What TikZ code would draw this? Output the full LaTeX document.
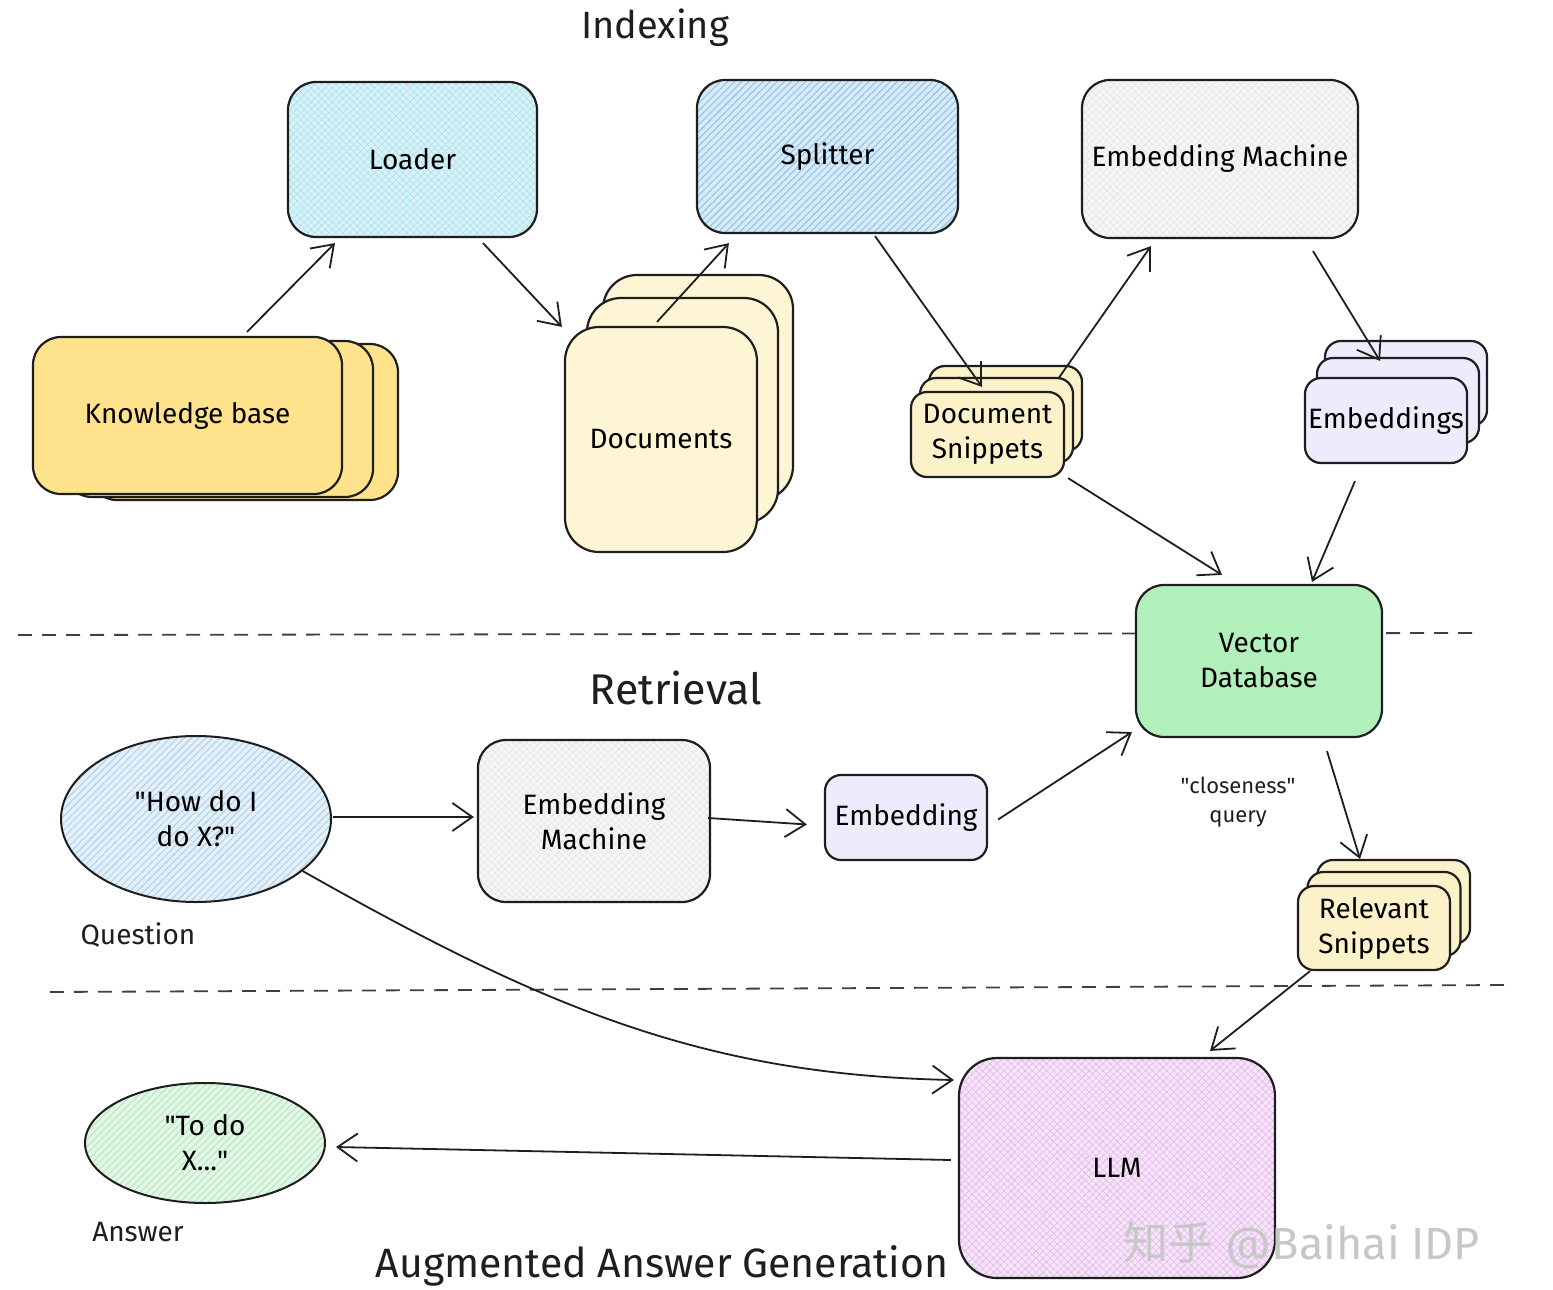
\documentclass[tikz,border=0pt]{standalone}
\usepackage{fontspec}
\setmainfont{Fira Sans}
\newfontfamily\cjkfont{Noto Sans CJK SC}
\usetikzlibrary{arrows.meta,calc,patterns.meta,shapes.geometric}
\definecolor{cLoader}{HTML}{D8F3F7}
\definecolor{hLoader}{HTML}{A6E0EA}
\definecolor{cSplit}{HTML}{D6EAF8}
\definecolor{hSplit}{HTML}{8CC0E6}
\definecolor{cGray}{HTML}{F5F6F7}
\definecolor{hGray}{HTML}{E2E4E7}
\definecolor{cKB}{HTML}{FFE38C}
\definecolor{cDoc}{HTML}{FDF5D3}
\definecolor{cSnip}{HTML}{FBF2CA}
\definecolor{cEmb}{HTML}{EDEBFC}
\definecolor{cVDB}{HTML}{B2F0BB}
\definecolor{cQ}{HTML}{E4F0F9}
\definecolor{hQ}{HTML}{A9CFEA}
\definecolor{cLLM}{HTML}{F6E4F9}
\definecolor{hLLM}{HTML}{E2B4EC}
\definecolor{cAns}{HTML}{E3F7E6}
\definecolor{hAns}{HTML}{B2E6BA}
\definecolor{ink}{HTML}{1E1E1E}
\newcommand{\qq}{\textquotedbl}
\begin{document}
\begin{tikzpicture}[x=1pt,y=-1pt,
  box/.style={draw=ink, line width=2.2pt, rounded corners=28pt, align=center,
    font=\fontsize{28}{35}\selectfont, inner sep=0pt},
  smallbox/.style={box, rounded corners=16pt},
  oval/.style={ellipse, draw=ink, line width=2pt, align=center,
    font=\fontsize{28}{35}\selectfont, inner sep=0pt},
  linesfill/.style 2 args={preaction={fill=#1}, preaction={pattern color=#2, pattern={Lines[angle=45,distance=5pt,line width=0.9pt]}}},
  crossfill/.style 2 args={preaction={fill=#1}, preaction={pattern color=#2, pattern={Hatch[angle=45,distance=5pt,line width=0.5pt]}}},
  arr/.style={draw=ink, line width=1.8pt, -{Straight Barb[length=20pt,width=28pt,line width=1.8pt]}},
  title/.style={font=\fontsize{38}{42}\selectfont, text=ink},
  lbl/.style={font=\fontsize{28}{32}\selectfont, text=ink},
  divider/.style={draw=ink!85, line width=1.8pt, dash pattern=on 14pt off 10pt}
]
\fill[white] (0,0) rectangle (1553,1290);
\useasboundingbox (0,0) rectangle (1553,1290);

% dividers
\coordinate (d1a) at (18,635);
\coordinate (d1b) at (1472,633);
\coordinate (d2a) at (50,992);
\coordinate (d2b) at (1505,985);
\draw[divider] (d1a) -- (d1b);
\draw[divider] (d2a) -- (d2b);

% titles
\node[title] (tIdx) at (655,28) {Indexing};
\node[title, font=\fontsize{43}{46}\selectfont] (tRet) at (676,688) {Retrieval};
\node[title, font=\fontsize{41}{44}\selectfont] (tAug) at (662,1266) {Augmented Answer Generation};

% indexing nodes
\node[box, crossfill={cLoader}{hLoader}, minimum width=249pt, minimum height=155pt] (loader) at (412.5,159.5) {Loader};
\node[box, linesfill={cSplit}{hSplit}, minimum width=261pt, minimum height=153pt] (splitter) at (827.5,156.5) {Splitter};
\node[box, crossfill={cGray}{hGray}, minimum width=276pt, minimum height=158pt] (embtop) at (1220,159) {Embedding Machine};

\node[box, fill=cKB, minimum width=309pt, minimum height=156pt] (kb3) at (243.5,422) {};
\node[box, fill=cKB, minimum width=309pt, minimum height=156pt] (kb2) at (218.5,419) {};
\node[box, fill=cKB, minimum width=309pt, minimum height=157pt] (kb) at (187.5,415.5) {Knowledge base};

\node[box, rounded corners=34pt, fill=cDoc, minimum width=190pt, minimum height=225pt] (docs3) at (698,387.5) {};
\node[box, rounded corners=34pt, fill=cDoc, minimum width=191pt, minimum height=225pt] (docs2) at (682.5,410.5) {};
\node[box, rounded corners=34pt, fill=cDoc, minimum width=192pt, minimum height=225pt] (docs) at (661,439.5) {Documents};

\node[smallbox, fill=cSnip, minimum width=153pt, minimum height=85pt] (sn3) at (1005.5,408.5) {};
\node[smallbox, fill=cSnip, minimum width=153pt, minimum height=85pt] (sn2) at (996.5,420.5) {};
\node[smallbox, fill=cSnip, minimum width=153pt, minimum height=85pt] (sn) at (987.5,434.5) {Document\\Snippets};

\node[smallbox, fill=cEmb, minimum width=162pt, minimum height=85pt] (emb3) at (1406,383.5) {};
\node[smallbox, fill=cEmb, minimum width=162pt, minimum height=85pt] (emb2) at (1398,400.5) {};
\node[smallbox, fill=cEmb, minimum width=162pt, minimum height=85pt] (emb) at (1386,420.5) {Embeddings};

\node[box, fill=cVDB, minimum width=246pt, minimum height=152pt] (vdb) at (1259,661) {Vector\\Database};

% retrieval nodes
\node[oval, linesfill={cQ}{hQ}, minimum width=270pt, minimum height=166pt] (question) at (196,819) {\qq How do I\\do X?\qq};
\node[lbl] (qlbl) at (138,935) {Question};
\node[box, crossfill={cGray}{hGray}, minimum width=232pt, minimum height=162pt] (embmid) at (594,821) {Embedding\\Machine};
\node[smallbox, fill=cEmb, minimum width=162pt, minimum height=85pt] (embedding) at (906,817.5) {Embedding};
\node[font=\fontsize{22}{29}\selectfont, align=center, text=ink] (close) at (1238,802) {\qq closeness\qq\\query};

\node[smallbox, fill=cSnip, minimum width=153pt, minimum height=84pt] (rs3) at (1393.5,902) {};
\node[smallbox, fill=cSnip, minimum width=153pt, minimum height=84pt] (rs2) at (1384,914) {};
\node[smallbox, fill=cSnip, minimum width=152pt, minimum height=84pt] (rs) at (1374,928) {Relevant\\Snippets};

% generation nodes
\node[box, rounded corners=38pt, crossfill={cLLM}{hLLM}, minimum width=316pt, minimum height=220pt] (llm) at (1117,1168) {LLM};
\node[oval, linesfill={cAns}{hAns}, minimum width=240pt, minimum height=120pt] (answer) at (205,1143) {\qq To do\\X...\qq};
\node[lbl] (albl) at (138,1232) {Answer};

% watermark
\node[font=\fontsize{45}{48}\selectfont, text=black!22] (wm) at (1302,1245) {{\cjkfont 知乎} @Baihai IDP};

% connectors
\draw[arr] ($(kb.north)+(59.5,-4)$) -- ($(loader.south)+(-77.5,5)$);
\draw[arr] ($(loader.south)+(70.5,5)$) -- ($(docs.north west)+(-2,1)$);
\draw[arr] ($(docs.north)+(-4,-4)$) -- ($(splitter.south west)+(33,9)$);
\draw[arr] ($(splitter.south)+(47.5,2)$) -- ($(sn.north)+(-5.5,-4)$);
\draw[arr] ($(sn.north east)+(-7,-12)$) -- ($(embtop.south west)+(70,7)$);
\draw[arr] ($(embtop.south)+(93,12)$) -- ($(emb.north)+(-6,-16)$);
\draw[arr] ($(sn.south east)+(3,0)$) -- ($(vdb.north)+(-37,-9)$);
\draw[arr] ($(emb.south)+(-31,17)$) -- ($(vdb.north)+(53,-2)$);
\draw[arr] ($(question.east)+(1,-2)$) -- ($(embmid.west)+(-3,-4)$);
\draw[arr] ($(embmid.east)+(-3,-3)$) -- ($(embedding.west)+(-17,7)$);
\draw[arr] ($(embedding.east)+(10,2)$) -- ($(vdb.south west)+(-3,-6)$);
\draw[arr] ($(vdb.south)+(68,13)$) -- ($(rs3.north)+(-33.5,0)$);
\draw[arr] ($(rs.south)+(-64,0)$) -- ($(llm.north)+(93,-6)$);
\draw[arr] (question.-26) .. controls (540,1005) and (700,1075) .. ($(llm.west)+(-4,-88)$);
\draw[arr] ($(llm.west)+(-7,-8)$) -- ($(answer.east)+(10,4)$);
\end{tikzpicture}
\end{document}
